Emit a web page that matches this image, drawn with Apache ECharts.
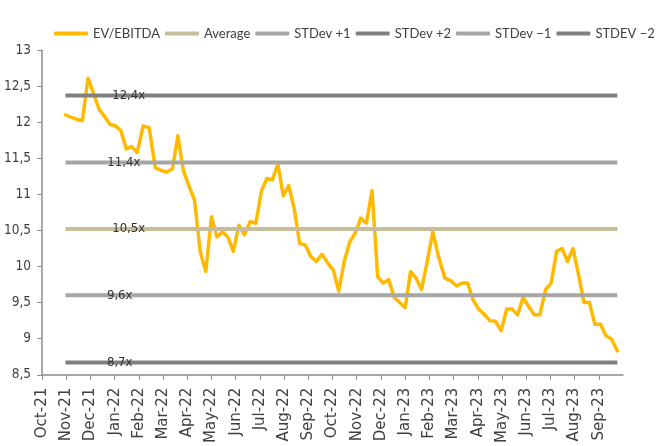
<!DOCTYPE html>
<html>
<head>
<meta charset="utf-8">
<script src="https://cdn.jsdelivr.net/npm/echarts@6/dist/echarts.min.js"></script>
<style>
  html, body { margin: 0; padding: 0; background: #ffffff; }
  #chart { width: 657px; height: 446px; }
</style>
</head>
<body>
<div id="chart"></div>
<script>
// Month tick labels, one per month from Oct-21 to Sep-23
const monthLabels = [
  'Oct-21', 'Nov-21', 'Dec-21', 'Jan-22', 'Feb-22', 'Mar-22', 'Apr-22', 'May-22',
  'Jun-22', 'Jul-22', 'Aug-22', 'Sep-22', 'Oct-22', 'Nov-22', 'Dec-22', 'Jan-23',
  'Feb-23', 'Mar-23', 'Apr-23', 'May-23', 'Jun-23', 'Jul-23', 'Aug-23', 'Sep-23'
];

// Weekly observations start on this date
const firstWeek = '2021-10-31';

// 12m forward EV/EBITDA, weekly
const evEbitda = [
  12.10, 12.07, 12.04, 12.02, 12.61, 12.40, 12.18, 12.08, 11.97, 11.95,
  11.88, 11.63, 11.66, 11.58, 11.95, 11.92, 11.37, 11.33, 11.31, 11.35,
  11.81, 11.33, 11.12, 10.92, 10.21, 9.93, 10.69, 10.41, 10.48, 10.41,
  10.21, 10.57, 10.44, 10.62, 10.60, 11.05, 11.22, 11.20, 11.42, 10.98,
  11.12, 10.80, 10.32, 10.30, 10.14, 10.07, 10.17, 10.05, 9.95, 9.66,
  10.07, 10.34, 10.46, 10.67, 10.60, 11.05, 9.86, 9.77, 9.82, 9.57,
  9.50, 9.43, 9.93, 9.84, 9.68, 10.05, 10.48, 10.12, 9.84, 9.80,
  9.73, 9.77, 9.77, 9.54, 9.41, 9.34, 9.25, 9.24, 9.11, 9.41,
  9.41, 9.33, 9.57, 9.45, 9.33, 9.33, 9.68, 9.77, 10.21, 10.25,
  10.07, 10.25, 9.89, 9.50, 9.50, 9.20, 9.20, 9.04, 8.99, 8.83
];

// Period average and standard-deviation bands
const bandNames  = ['Average', 'STDev +1', 'STDev +2', 'STDev \u22121', 'STDEV \u22122'];
const bandValues = [10.52, 11.44, 12.37, 9.60, 8.67];

// Tick labels on the value axis
const yTicks = { min: 8.5, max: 13, step: 0.5 };

// ---- presentation ----
const LEGEND_FONT = "Lato, 'DejaVu Sans Condensed', sans-serif";
const Y_FONT = "'DejaVu Sans Condensed', sans-serif";
const X_FONT = "'DejaVu Sans', sans-serif";
const TEXT = '#404040';
const AXIS = '#8c8c8c';
const lineColor = '#FFBA00';
const bandColors = ['#C6BE9A', '#A6A6A6', '#808080', '#A6A6A6', '#808080'];
// horizontal placement (in months from Oct-21) of each band's value tag
const bandTagPos = [3.58, 3.38, 3.58, 3.21, 3.21];

function daysInMonth(y, m) { return new Date(Date.UTC(y, m + 1, 0)).getUTCDate(); }
// position of a date on the month axis (0 = 1 Oct 2021)
function monthPos(d) {
  const y = d.getUTCFullYear(), m = d.getUTCMonth();
  return (y - 2021) * 12 + (m - 9) + (d.getUTCDate() - 1) / daysInMonth(y, m);
}
const start = new Date(firstWeek + 'T00:00:00Z');
const weekDates = evEbitda.map((_, i) => new Date(start.getTime() + i * 7 * 86400000));
const xs = weekDates.map(monthPos);
const xFirst = xs[0], xLast = xs[xs.length - 1];

const fmtNum = v => String(v).replace('.', ',');

const series = [{
  name: 'EV/EBITDA',
  type: 'line',
  data: evEbitda.map((v, i) => [xs[i], v]),
  showSymbol: false,
  color: lineColor,
  lineStyle: { width: 3.5, color: lineColor, cap: 'round', join: 'round' },
  z: 2
}];

bandNames.forEach((name, k) => {
  const v = bandValues[k];
  series.push({
    name: name,
    type: 'line',
    data: [[xFirst, v], [xLast, v]],
    showSymbol: false,
    color: bandColors[k],
    lineStyle: { width: 4, color: bandColors[k], cap: 'butt' },
    z: 3,
    markPoint: {
      symbol: 'circle',
      symbolSize: 1,
      itemStyle: { color: 'rgba(0,0,0,0)' },
      label: {
        show: true,
        position: 'inside',
        formatter: fmtNum(v.toFixed(1)) + 'x',
        color: '#333333',
        fontFamily: Y_FONT,
        fontSize: 13
      },
      data: [{ coord: [bandTagPos[k], v] }],
      z: 5
    }
  });
});

const chart = echarts.init(document.getElementById('chart'), null, { renderer: 'canvas' });
chart.setOption({
  animation: false,
  backgroundColor: '#ffffff',
  legend: {
    data: ['EV/EBITDA'].concat(bandNames),
    top: 27,
    left: 54,
    width: 620,
    padding: 0,
    icon: 'roundRect',
    itemWidth: 34,
    itemHeight: 4,
    itemGap: 5,
    textStyle: { color: TEXT, fontSize: 13, fontFamily: LEGEND_FONT }
  },
  grid: { left: 42, right: 34, top: 50, bottom: 68, containLabel: false },
  xAxis: {
    type: 'value',
    min: 0,
    max: monthLabels.length,
    interval: 1,
    splitLine: { show: false },
    axisLine: { lineStyle: { color: AXIS, width: 1.5 } },
    axisTick: { show: true, length: 5, lineStyle: { color: AXIS } },
    axisLabel: {
      rotate: 90,
      margin: 13,
      color: TEXT,
      fontSize: 15,
      fontFamily: X_FONT,
      showMaxLabel: false,
      formatter: v => monthLabels[Math.round(v)] || ''
    }
  },
  yAxis: {
    type: 'value',
    min: yTicks.min,
    max: yTicks.max,
    interval: yTicks.step,
    splitLine: { show: false },
    axisLine: { show: true, lineStyle: { color: AXIS, width: 1.5 } },
    axisTick: { show: true, length: 5, lineStyle: { color: AXIS } },
    axisLabel: {
      margin: 11,
      color: TEXT,
      fontSize: 13.5,
      fontFamily: Y_FONT,
      formatter: v => fmtNum(v)
    }
  },
  series: series
});
</script>
</body>
</html>
